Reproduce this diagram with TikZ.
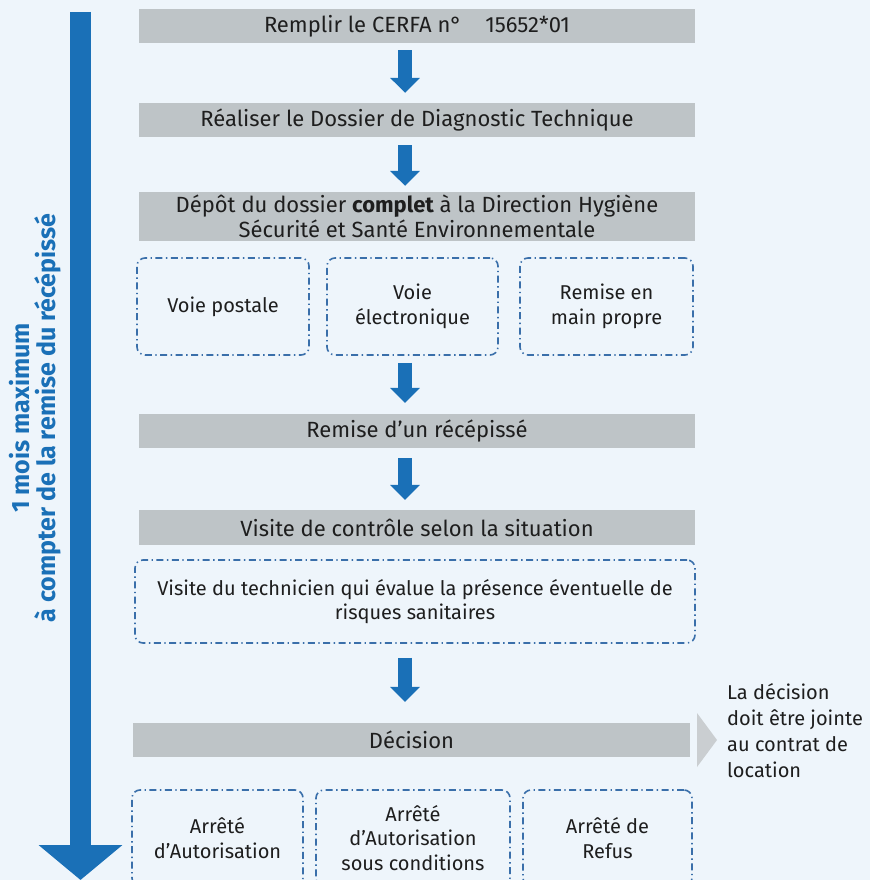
\documentclass[tikz,border=0pt]{standalone}
\usepackage{fontspec}
\setmainfont{Fira Sans}
\usetikzlibrary{arrows.meta}
\definecolor{bg}{HTML}{EEF5FB}
\definecolor{mblue}{HTML}{1A70B7}
\definecolor{gbox}{HTML}{BEC4C7}
\definecolor{dashc}{HTML}{3A6FAA}
\definecolor{tri}{HTML}{CACED1}
\definecolor{txt}{HTML}{1E1E1E}
\begin{document}
\begin{tikzpicture}[x=1pt,y=-1pt,
  graybox/.style={fill=gbox, inner sep=0pt, align=center, text=txt,
    minimum width=556pt, minimum height=34pt, font=\fontsize{22}{25}\selectfont},
  dashbox/.style={draw=dashc, line width=1.6pt, rounded corners=8pt,
    dash pattern=on 7pt off 3.5pt on 1.4pt off 3.5pt, align=center, text=txt,
    inner sep=0pt, font=\fontsize{20}{24.5}\selectfont},
  flowarrow/.style={draw=mblue, line width=14pt, -{Triangle[width=29pt,length=15pt]}},
  bigarrow/.style={draw=mblue, line width=21pt, -{Triangle[width=82pt,length=35pt]}},
]
\fill[bg] (0,0) rectangle (870,880);
\useasboundingbox (0,0) rectangle (870,880);

\coordinate (ax) at (405,0);

% gray step boxes
\node[graybox] (b1) at (417,26) {Remplir le CERFA n°\ \ \ \ 15652*01};
\node[graybox] (b2) at (417,120) {Réaliser le Dossier de Diagnostic Technique};
\node[graybox, minimum height=49pt] (b3) at (417,216.5)
  {Dépôt du dossier {\bfseries complet} à la Direction Hygiène\\Sécurité et Santé Environnementale};
\node[graybox] (b4) at (417,431) {Remise d’un récépissé};
\node[graybox, minimum height=35pt] (b5) at (417,527.5) {Visite de contrôle selon la situation};
\node[graybox, minimum width=557pt] (b6) at (411.5,740) {Décision};

% dashed option boxes
\node[dashbox, minimum width=172pt, minimum height=97pt] (d1) at (223,306.5) {Voie postale};
\node[dashbox, minimum width=171pt, minimum height=97pt] (d2) at (412.5,306.5) {Voie\\électronique};
\node[dashbox, minimum width=173pt, minimum height=97pt] (d3) at (606.5,306.5) {Remise en\\main propre};
\node[dashbox, minimum width=560pt, minimum height=83pt] (v) at (415,601.5)
  {Visite du technicien qui évalue la présence éventuelle de\\risques sanitaires};
\node[dashbox, minimum width=171pt, minimum height=96pt] (r1) at (217.5,838) {Arrêté\\d’Autorisation};
\node[dashbox, minimum width=194pt, minimum height=96pt] (r2) at (413,838) {Arrêté\\d’Autorisation\\sous conditions};
\node[dashbox, minimum width=169pt, minimum height=96pt] (r3) at (607.5,838) {Arrêté de\\Refus};

% flow arrows
\draw[flowarrow] ([yshift=-7pt]b1.south -| ax) -- ([yshift=10pt]b2.north -| ax);
\draw[flowarrow] ([yshift=-8pt]b2.south -| ax) -- ([yshift=6pt]b3.north -| ax);
\draw[flowarrow] ([yshift=-7pt]d2.south -| ax) -- ([yshift=11pt]b4.north -| ax);
\draw[flowarrow] ([yshift=-10pt]b4.south -| ax) -- ([yshift=10pt]b5.north -| ax);
\draw[flowarrow] ([yshift=-14pt]v.south -| ax) -- ([yshift=21pt]b6.north -| ax);

% big timeline arrow
\coordinate (tstart) at (80.5,12);
\coordinate (tend) at (80.5,880);
\draw[bigarrow] (tstart) -- (tend);
\node[rotate=90, text=mblue, align=center, font=\bfseries\fontsize{25}{26.5}\selectfont] (tl) at (35,418)
  {1 mois maximum\\à compter de la remise du récépissé};

% side note
\fill[tri] (697,713) -- (717,740) -- (697,767) -- cycle;
\node[anchor=north west, align=left, text=txt, inner sep=0pt,
  font=\fontsize{20}{26}\selectfont] (note) at (727,683)
  {La décision\\doit être jointe\\au contrat de\\location};
\end{tikzpicture}
\end{document}
